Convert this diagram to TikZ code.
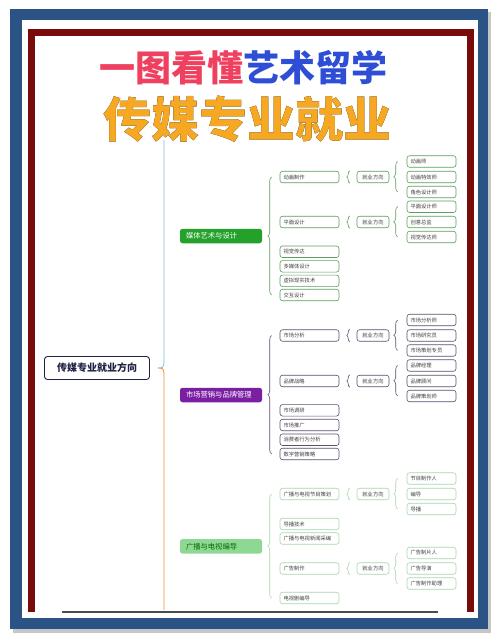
\documentclass[tikz,border=0pt]{standalone}
\usepackage{fontspec}
\setmainfont{Noto Sans CJK SC}
\usepackage{xcolor}
\usepackage{pdfrender}
\usetikzlibrary{decorations.pathreplacing,calc}
\definecolor{framebl}{HTML}{2B5386}
\definecolor{framered}{HTML}{7A0B0B}
\definecolor{titlepink}{HTML}{EF4060}
\definecolor{titleblue}{HTML}{2F4ED6}
\definecolor{titleorange}{HTML}{F7A823}
\definecolor{rootnavy}{HTML}{1E2342}
\definecolor{lineblue}{HTML}{7CC3DB}
\definecolor{lineorange}{HTML}{EF8F2C}
\definecolor{catgreen}{HTML}{23A12B}
\definecolor{catpurple}{HTML}{7B1FA2}
\definecolor{catlight}{HTML}{8FD894}
\definecolor{grnline}{HTML}{5E9E5E}
\definecolor{purline}{HTML}{5F4F70}
\definecolor{ltline}{HTML}{A8D6AA}

\begin{document}
\begin{tikzpicture}[x=1pt, y=-1pt,
      headline/.style={font=\fontsize{48}{50}\selectfont\bfseries},
      rootbox/.style={draw=rootnavy, line width=0.9pt, rounded corners=3pt, fill=white, minimum width=105pt, minimum height=23pt, text=rootnavy, font=\fontsize{10}{11}\selectfont\bfseries},
      catbox/.style={rounded corners=2.5pt, text width=70pt, inner xsep=6pt, inner ysep=0pt, minimum height=14.5pt, align=left, font=\fontsize{7.3}{8}\selectfont},
      sub/.style={draw, line width=0.6pt, rounded corners=2.5pt, fill=white, text width=52pt, inner xsep=3.5pt, inner ysep=0pt, minimum height=11.5pt, align=left, text=black!75, font=\fontsize{5.3}{6}\selectfont},
      job/.style={sub, text width=25pt, align=center},
      leaf/.style={sub, text width=42pt},
      grp/.style={decorate, decoration={brace, amplitude=#1}, line width=0.6pt},
      grp/.default=4pt
    ]
    \useasboundingbox (0,0) rectangle (500,642);
    % frames
    \fill[gray!45] (13,12) rectangle (491,633);
    \fill[framebl] (10,9) rectangle (488,629);
    \fill[white] (22,20) rectangle (478,618);
    \draw[framered, line width=7pt] (31.5,612) -- (31.5,32.5) -- (470,32.5) -- (470,612);
    \draw[black!70, line width=1.2pt] (62,612) -- (438,612);

    % title
    \node[font=\fontsize{36}{38}\selectfont\bfseries] (title) at (243,68) {\textcolor{titlepink}{一图看懂}\textcolor{titleblue}{艺术留学}};
    \node[headline, text=black] (subtitleline) at (247,119) {\textpdfrender{TextRenderingMode=FillStroke, LineWidth=6.5pt, LineJoin=1}{传媒专业就业}};
    \node[headline, text=titleorange] (subtitle) at (subtitleline) {传媒专业就业};

    % root
    \node[rootbox] (root) at (97,368) {传媒专业就业方向};
    \coordinate (tip) at ([xshift=8pt]root.east);
    \coordinate (rtop) at (164,140);
    \coordinate (rbot) at (164,610);
    \draw[lineblue, line width=0.8pt] (tip) .. controls +(4,0) and +(0,6) .. ++(6,-6) -- (rtop);
    \draw[lineorange, line width=0.8pt] (tip) .. controls +(4,0) and +(0,-6) .. ++(6,6) -- (rbot);

    % media art & design
    \node[catbox, fill=catgreen, text=white] (media) at (221,236) {媒体艺术与设计};
    \node[sub, draw=grnline] (anim) at (309.5,177) {动画制作};
    \node[sub, draw=grnline] (graph) at (309.5,222) {平面设计};
    \node[sub, draw=grnline] (visual) at (309.5,251.7) {视觉传达};
    \node[sub, draw=grnline] (multi) at (309.5,266.3) {多媒体设计};
    \node[sub, draw=grnline] (vr) at (309.5,280.8) {虚拟现实技术};
    \node[sub, draw=grnline] (inter) at (309.5,295) {交互设计};
    \node[job, draw=grnline] (jobanim) at (373,177) {就业方向};
    \node[job, draw=grnline] (jobgraph) at (373,222) {就业方向};
    \node[leaf, draw=grnline] (animator) at (431.5,161.5) {动画师};
    \node[leaf, draw=grnline] (vfx) at (431.5,177) {动画特效师};
    \node[leaf, draw=grnline] (chardes) at (431.5,192) {角色设计师};
    \node[leaf, draw=grnline] (gdesigner) at (431.5,206.7) {平面设计师};
    \node[leaf, draw=grnline] (creative) at (431.5,222) {创意总监};
    \node[leaf, draw=grnline] (vcomm) at (431.5,237) {视觉传达师};

    \draw[grp, grnline] ([xshift=-8pt]inter.west) -- ([xshift=-8pt]anim.west);
    \draw[grp=3pt, grnline] ([xshift=-7pt]jobanim.south west) -- ([xshift=-7pt]jobanim.north west);
    \draw[grp=3pt, grnline] ([xshift=-7pt]jobgraph.south west) -- ([xshift=-7pt]jobgraph.north west);
    \draw[grp, grnline] ([xshift=-9pt]chardes.west) -- ([xshift=-9pt]animator.west);
    \draw[grp, grnline] ([xshift=-9pt]vcomm.west) -- ([xshift=-9pt]gdesigner.west);

    % marketing & brand
    \node[catbox, fill=catpurple, text=white] (market) at (221,395) {市场营销与品牌管理};
    \node[sub, draw=purline] (analysis) at (309.5,335.5) {市场分析};
    \node[sub, draw=purline] (brand) at (309.5,381) {品牌战略};
    \node[sub, draw=purline] (research) at (309.5,410.3) {市场调研};
    \node[sub, draw=purline] (promo) at (309.5,425) {市场推广};
    \node[sub, draw=purline] (consumer) at (309.5,439.7) {消费者行为分析};
    \node[sub, draw=purline] (digital) at (309.5,454) {数字营销策略};
    \node[job, draw=purline] (jobanalysis) at (373,335.5) {就业方向};
    \node[job, draw=purline] (jobbrand) at (373,381) {就业方向};
    \node[leaf, draw=purline] (analyst) at (431.5,320) {市场分析师};
    \node[leaf, draw=purline] (researcher) at (431.5,335.5) {市场研究员};
    \node[leaf, draw=purline] (planner) at (431.5,350.5) {市场策划专员};
    \node[leaf, draw=purline] (bmanager) at (431.5,365.5) {品牌经理};
    \node[leaf, draw=purline] (bconsult) at (431.5,381) {品牌顾问};
    \node[leaf, draw=purline] (bplanner) at (431.5,396) {品牌策划师};

    \draw[grp, purline] ([xshift=-8pt]digital.west) -- ([xshift=-8pt]analysis.west);
    \draw[grp=3pt, purline] ([xshift=-7pt]jobanalysis.south west) -- ([xshift=-7pt]jobanalysis.north west);
    \draw[grp=3pt, purline] ([xshift=-7pt]jobbrand.south west) -- ([xshift=-7pt]jobbrand.north west);
    \draw[grp, purline] ([xshift=-9pt]planner.west) -- ([xshift=-9pt]analyst.west);
    \draw[grp, purline] ([xshift=-9pt]bplanner.west) -- ([xshift=-9pt]bmanager.west);

    % radio & tv directing
    \node[catbox, fill=catlight, text=green!40!black] (radio) at (221,546.3) {广播与电视编导};
    \node[sub, draw=ltline] (program) at (309.5,494) {广播与电视节目策划};
    \node[sub, draw=ltline] (broadcast) at (309.5,524) {导播技术};
    \node[sub, draw=ltline] (news) at (309.5,538.5) {广播与电视新闻采编};
    \node[sub, draw=ltline] (advert) at (309.5,568.5) {广告制作};
    \node[sub, draw=ltline] (drama) at (309.5,598) {电视剧编导};
    \node[job, draw=ltline] (jobprogram) at (373,494) {就业方向};
    \node[job, draw=ltline] (jobadvert) at (373,568.5) {就业方向};
    \node[leaf, draw=ltline] (producer) at (431.5,478.5) {节目制作人};
    \node[leaf, draw=ltline] (director) at (431.5,494) {编导};
    \node[leaf, draw=ltline] (switcher) at (431.5,509) {导播};
    \node[leaf, draw=ltline] (adproducer) at (431.5,553) {广告制片人};
    \node[leaf, draw=ltline] (addirector) at (431.5,568.5) {广告导演};
    \node[leaf, draw=ltline] (adassist) at (431.5,583.5) {广告制作助理};

    \draw[grp, ltline] ([xshift=-8pt]drama.west) -- ([xshift=-8pt]program.west);
    \draw[grp=3pt, ltline] ([xshift=-7pt]jobprogram.south west) -- ([xshift=-7pt]jobprogram.north west);
    \draw[grp=3pt, ltline] ([xshift=-7pt]jobadvert.south west) -- ([xshift=-7pt]jobadvert.north west);
    \draw[grp, ltline] ([xshift=-9pt]switcher.west) -- ([xshift=-9pt]producer.west);
    \draw[grp, ltline] ([xshift=-9pt]adassist.west) -- ([xshift=-9pt]adproducer.west);
  \end{tikzpicture}
\end{document}
